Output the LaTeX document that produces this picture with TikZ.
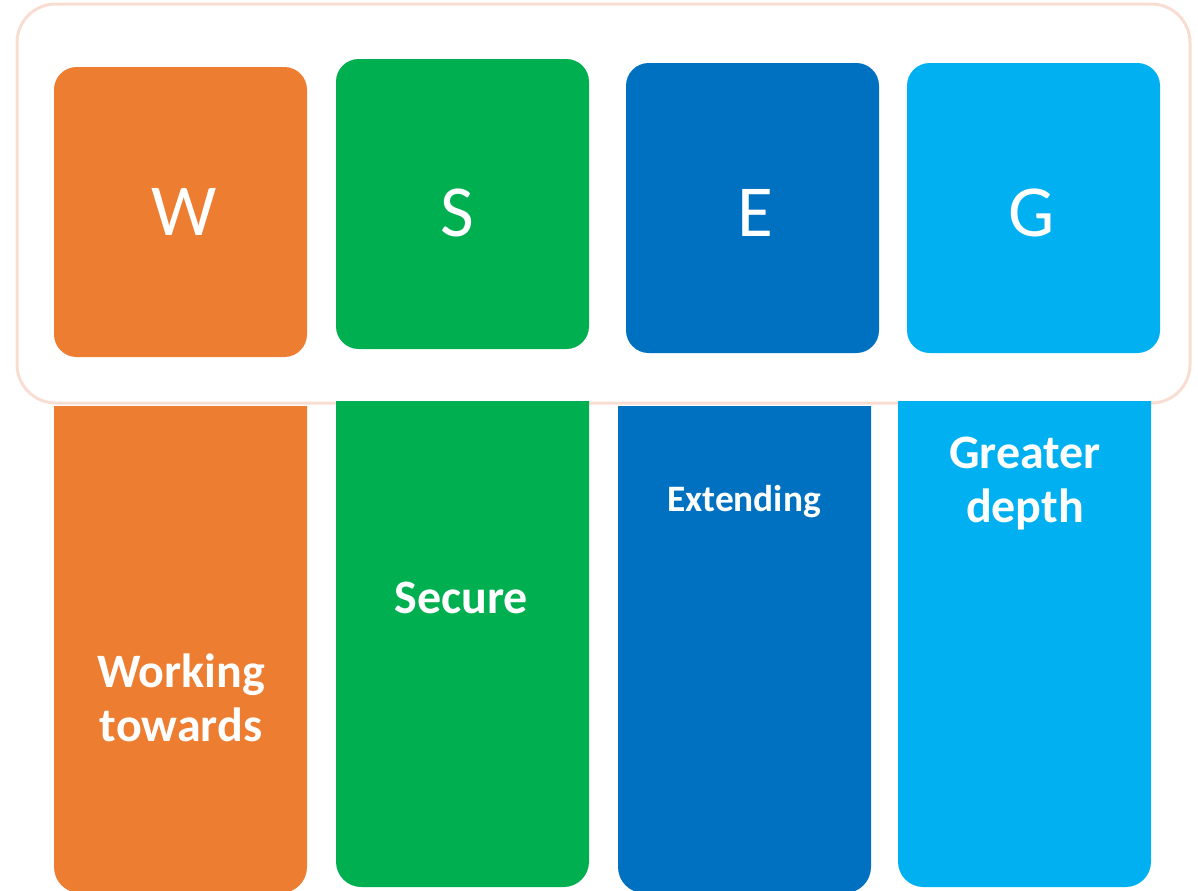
\documentclass[tikz,border=0pt]{standalone}
\usepackage{fontspec}
\setmainfont{Carlito}
\definecolor{cW}{HTML}{ED7D31}
\definecolor{cS}{HTML}{00B050}
\definecolor{cE}{HTML}{0070C0}
\definecolor{cG}{HTML}{00B0F0}
\definecolor{frame}{HTML}{F8DDD3}
\tikzset{
  px/.style={x=0.75pt,y=-0.75pt},
  topbox/.style={rounded corners=17pt, draw=none},
  letter/.style={text=white, font=\fontsize{55}{66}\selectfont, inner sep=0pt},
  label/.style={text=white, font=\bfseries\fontsize{36}{40}\selectfont, align=center, inner sep=0pt, anchor=base},
  smalllabel/.style={label, font=\bfseries\fontsize{28}{33}\selectfont},
}
\begin{document}
\begin{tikzpicture}[px]
\useasboundingbox (0,0) rectangle (1198,890);
% outer frame
\draw[frame, line width=2.25pt, rounded corners=29pt] (17,4) rectangle (1190,403);
% top boxes
\fill[cW, topbox] (54,67) rectangle (307,357);
\fill[cS, topbox] (336,59) rectangle (589,349);
\fill[cE, topbox] (626,63) rectangle (879,353);
\fill[cG, topbox] (907,63) rectangle (1160,353);
\node[letter] (lW) at (184,211.5) {W};
\node[letter] (lS) at (457,213) {S};
\node[letter] (lE) at (755,213) {E};
\node[letter] (lG) at (1032,213) {G};
% bottom columns
\fill[cW] (54,406) [rounded corners=19.5pt] -- (54,893) -- (307,893) [sharp corners] -- (307,406) -- cycle;
\fill[cS] (336,401) [rounded corners=19pt] -- (336,887) -- (589,887) [sharp corners] -- (589,401) -- cycle;
\fill[cE] (618,406) [rounded corners=19.5pt] -- (618,893) -- (871,893) [sharp corners] -- (871,406) -- cycle;
\fill[cG] (898,401) [rounded corners=19pt] -- (898,887) -- (1151,887) [sharp corners] -- (1151,401) -- cycle;
\node[label] (tW) at (181,741) {Working\\towards};
\node[label] (tS) at (461,613) {Secure};
\node[smalllabel] (tE) at (744,511) {Extending};
\node[label] (tG) at (1025,522) {Greater\\depth};
\end{tikzpicture}
\end{document}
